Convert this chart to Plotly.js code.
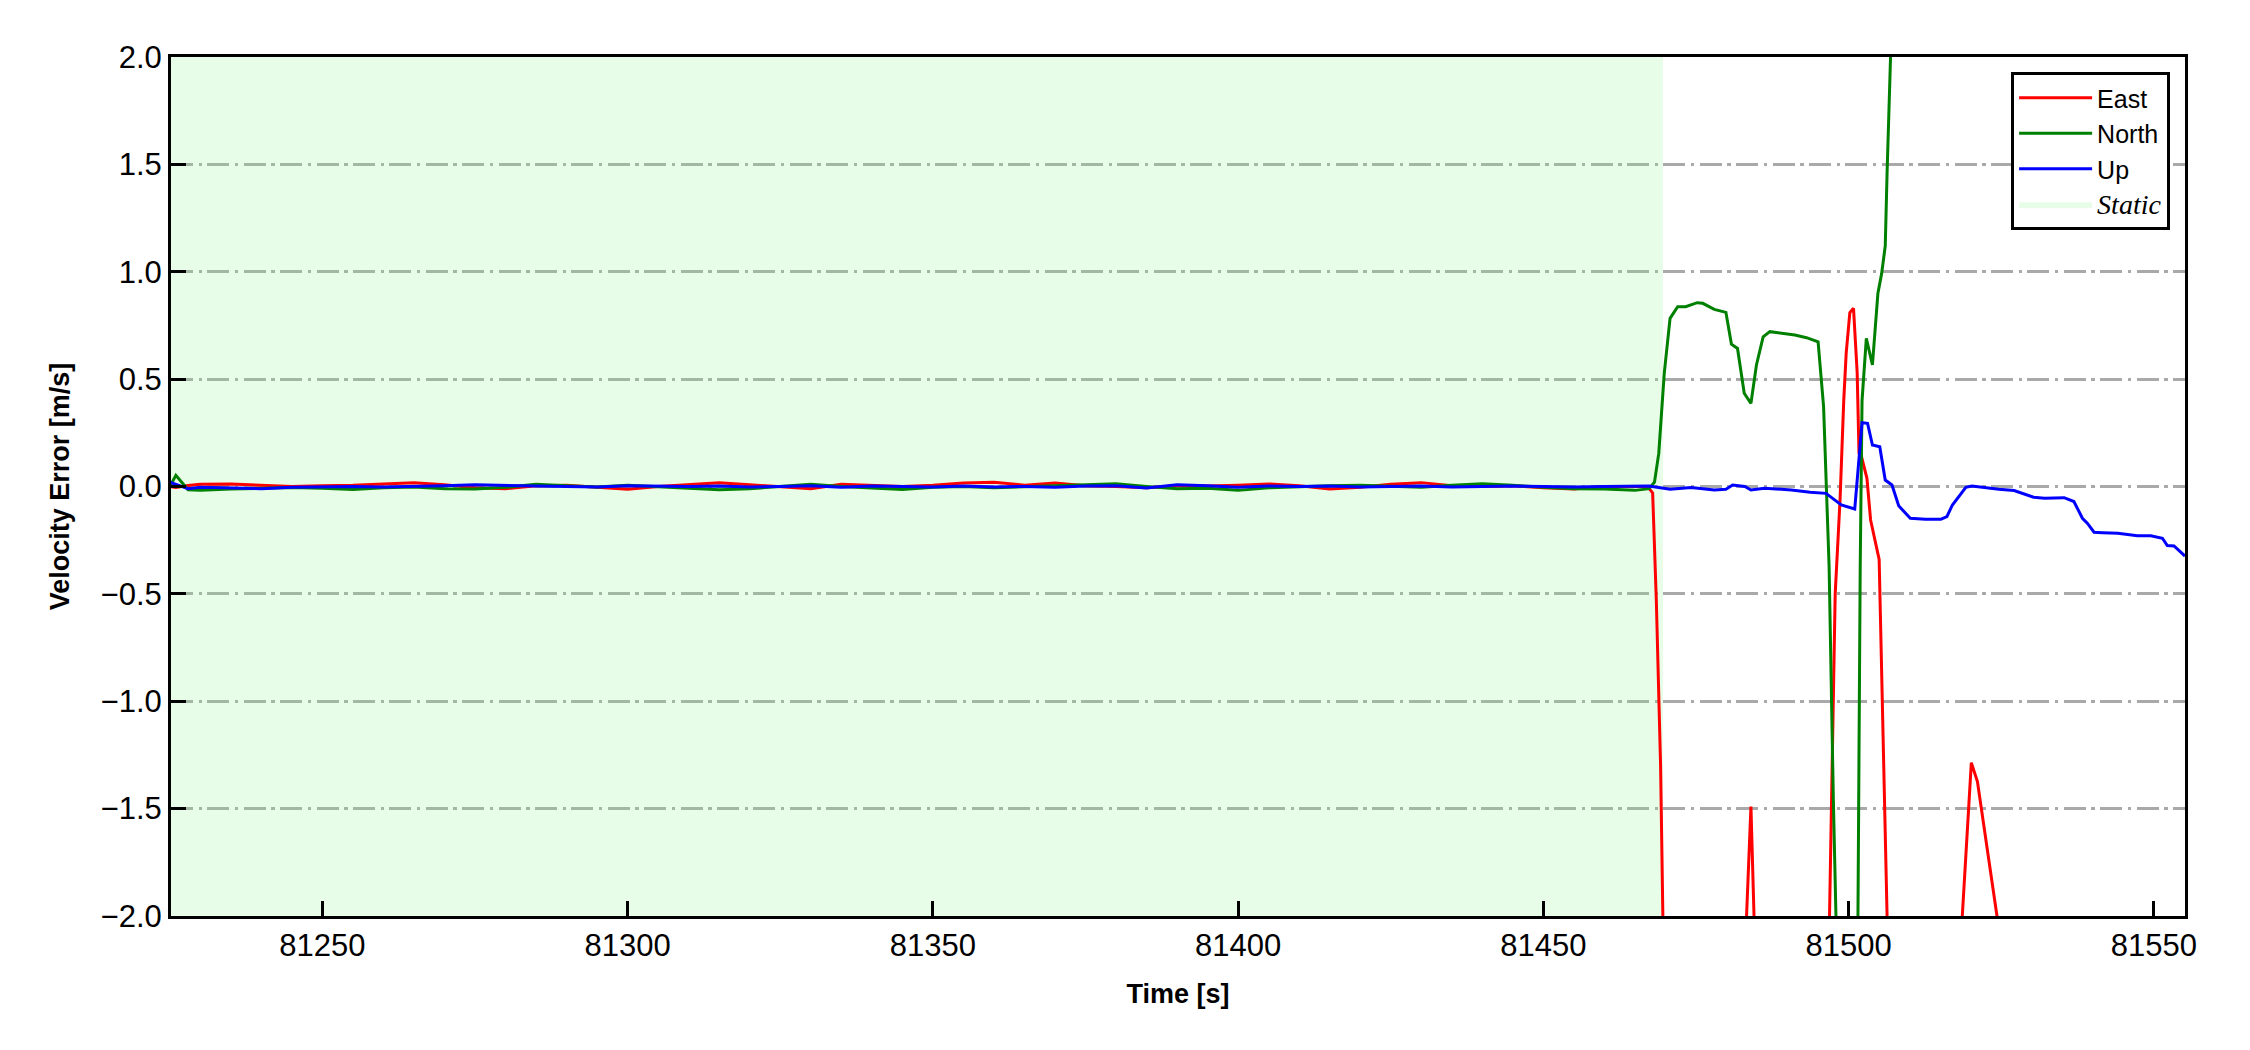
<!DOCTYPE html>
<html>
<head>
<meta charset="utf-8">
<script src="https://cdn.plot.ly/plotly-3.0.1.min.js"></script>
<style>html,body{margin:0;padding:0;background:#fff;}</style>
</head>
<body>
<div id="chart" style="width:2250px;height:1050px;"></div>
<script>
// ---- data ----
const staticTime = [81225,81226,81228,81230,81235,81240,81245,81250,81255,81260,81265,81270,81275,81280,81285,81290,81295,81300,81305,81310,81315,81320,81325,81330,81335,81340,81345,81350,81355,81360,81365,81370,81375,81380,81385,81390,81395,81400,81405,81410,81415,81420,81425,81430,81435,81440,81445,81450,81455,81460,81465];

const eastStatic = [0.0,-0.005,0.005,0.01,0.012,0.006,0.0,0.004,0.006,0.012,0.018,0.008,-0.006,-0.01,0.004,0.006,-0.004,-0.013,0.0,0.01,0.018,0.008,0.0,-0.01,0.01,0.004,0.0,0.006,0.016,0.02,0.006,0.016,0.004,0.0,-0.006,0.004,0.002,0.006,0.012,0.004,-0.012,-0.004,0.01,0.018,0.004,0.0,0.004,-0.006,-0.012,0.0,0.002];
const northStatic = [0.0,0.052,-0.015,-0.018,-0.012,-0.008,-0.005,-0.008,-0.014,-0.006,-0.002,-0.01,-0.012,-0.004,0.01,0.004,-0.002,0.006,0.0,-0.008,-0.015,-0.01,0.0,0.01,0.0,-0.006,-0.014,-0.004,0.0,-0.006,-0.002,0.004,0.006,0.013,0.0,-0.01,-0.008,-0.018,-0.006,0.0,0.004,0.006,0.0,-0.004,0.006,0.013,0.006,-0.004,-0.01,-0.012,-0.018];
const upStatic = [0.02,0.01,-0.01,-0.004,-0.006,-0.01,-0.004,-0.002,0.0,-0.002,0.0,0.004,0.008,0.004,0.002,0.0,-0.002,0.004,0.002,0.0,0.002,-0.002,0.0,0.004,-0.004,0.002,0.0,-0.002,0.002,-0.002,0.0,-0.004,0.002,0.004,-0.007,0.008,0.004,-0.004,0.002,0.0,0.002,-0.002,0.0,0.002,-0.002,0.0,0.002,0.0,-0.002,0.0,0.002];

const eastTimeAfter = [81466.5,81467.3,81467.9,81468.5,81469.2,81470.0,81475.0,81480.0,81483.0,81484.0,81485.0,81490.0,81496.5,81497.8,81498.6,81499.2,81499.6,81500.2,81500.8,81501.4,81501.7,81502.1,81503.0,81503.6,81504.9,81505.0,81506.3,81506.6,81512.0,81518.0,81520.1,81521.1,81524.3,81524.6,81535.0];
const eastAfter     = [0.0,-0.008,-0.03,-0.53,-1.3,-2.8,-4.5,-4.0,-2.2,-1.49,-2.5,-4.2,-2.6,-0.5,-0.06,0.40,0.62,0.81,0.83,0.53,0.155,0.14,0.038,-0.156,-0.327,-0.34,-2.0,-2.5,-4.5,-2.3,-1.286,-1.374,-2.0,-2.1,-5.0];

const northTimeAfter = [81467.3,81468.2,81468.9,81469.8,81470.75,81472.0,81473.3,81475.2,81476.1,81478.0,81479.9,81480.8,81481.8,81482.9,81484.0,81484.9,81486.0,81487.1,81489.3,81491.2,81493.1,81495.0,81495.9,81496.8,81497.5,81498.0,81499.5,81501.3,81501.9,81502.2,81502.9,81503.9,81504.8,81505.4,81506.0,81506.3,81506.8,81507.5,81510.0];
const northAfter     = [-0.01,0.02,0.154,0.527,0.783,0.837,0.837,0.856,0.853,0.825,0.811,0.663,0.643,0.434,0.387,0.566,0.697,0.721,0.713,0.705,0.693,0.674,0.372,-0.37,-1.46,-2.4,-4.0,-3.0,-0.37,0.40,0.69,0.566,0.90,0.99,1.12,1.46,1.92,2.6,4.0];

const upTimeAfter = [81467.3,81470.75,81474.2,81478.0,81479.9,81481.0,81483.0,81484.0,81486.2,81490.6,81493.7,81496.3,81498.8,81501.0,81502.2,81503.1,81503.9,81505.1,81506.0,81507.1,81508.2,81510.1,81512.6,81515.1,81516.1,81517.0,81519.2,81520.2,81522.1,81524.6,81527.1,81528.4,81530.3,81532.1,81535.3,81536.9,81538.3,81539.1,81540.2,81541.6,81544.1,81547.3,81549.5,81551.4,81552.2,81553.3,81555.1];
const upAfter     = [0.002,-0.013,-0.005,-0.016,-0.013,0.007,0.0,-0.016,-0.008,-0.016,-0.027,-0.032,-0.086,-0.105,0.297,0.294,0.193,0.185,0.03,0.007,-0.09,-0.148,-0.153,-0.153,-0.14,-0.086,-0.004,0.002,-0.005,-0.013,-0.019,-0.032,-0.05,-0.055,-0.052,-0.07,-0.148,-0.171,-0.213,-0.215,-0.218,-0.229,-0.229,-0.241,-0.275,-0.277,-0.324];

const staticPeriod = [81225.2, 81469.6];
const xRange = [81225.2, 81555.1];
const yRange = [-2, 2];
const xTickVals = [81250,81300,81350,81400,81450,81500,81550];
const xTickText = ['81250','81300','81350','81400','81450','81500','81550'];
const yTickVals = [-2.0,-1.5,-1.0,-0.5,0.0,0.5,1.0,1.5,2.0];
const yTickText = ['\u22122.0','\u22121.5','\u22121.0','\u22120.5','0.0','0.5','1.0','1.5','2.0'];
const seriesNames = ['East','North','Up'];
const staticName = 'Static';

// ---- figure ----
const FONT = 'Liberation Sans, Arial, sans-serif';
const eastT = staticTime.concat(eastTimeAfter), eastV = eastStatic.concat(eastAfter);
const northT = staticTime.concat(northTimeAfter), northV = northStatic.concat(northAfter);
const upT = staticTime.concat(upTimeAfter), upV = upStatic.concat(upAfter);

const mk = (x, y, name, color, rank) => ({
  x: x, y: y, name: name, type: 'scatter', mode: 'lines',
  line: {color: color, width: 3}, legendrank: rank, hoverinfo: 'skip'
});

// static period band (drawn first so it lies under the lines)
const staticTrace = {
  x: [staticPeriod[0], staticPeriod[1], staticPeriod[1], staticPeriod[0]],
  y: [yRange[0], yRange[0], yRange[1], yRange[1]],
  type: 'scatter', mode: 'lines', fill: 'toself',
  fillcolor: 'rgba(140,245,140,0.2)', line: {width: 0, color: 'rgba(140,245,140,0.2)'},
  name: '<span style="font-family:Liberation Serif, Times New Roman, serif;font-size:28px"><i>' + staticName + '</i></span>',
  legendrank: 4, hoverinfo: 'skip'
};

const traces = [
  staticTrace,
  mk(eastT, eastV, seriesNames[0], '#ff0000', 1),
  mk(northT, northV, seriesNames[1], '#008000', 2),
  mk(upT, upV, seriesNames[2], '#0000ff', 3)
];

const layout = {
  width: 2250, height: 1050,
  margin: {l: 171, r: 65, t: 57, b: 134, pad: 0},
  paper_bgcolor: '#ffffff', plot_bgcolor: '#ffffff',
  font: {family: FONT, color: '#000000'},
  showlegend: true,
  legend: {
    x: 0.9926, xanchor: 'right', y: 0.9825, yanchor: 'top',
    bgcolor: '#ffffff', bordercolor: '#000000', borderwidth: 3,
    font: {family: FONT, size: 25, color: '#000000'},
    itemwidth: 73, tracegroupgap: 0
  },
  xaxis: {
    range: xRange, tickmode: 'array', tickvals: xTickVals, ticktext: xTickText,
    ticks: 'inside', ticklen: 15, tickwidth: 3, tickcolor: '#000000',
    showline: true, linewidth: 3, linecolor: '#000000', mirror: true,
    showgrid: false, zeroline: false,
    tickfont: {family: FONT, size: 31, color: '#000000'},
    title: {text: 'Time [s]', font: {family: FONT, size: 27, color: '#000000', weight: 'bold'}, standoff: 22}
  },
  yaxis: {
    range: yRange, tickmode: 'array', tickvals: yTickVals, ticktext: yTickText,
    ticks: 'inside', ticklen: 15, tickwidth: 3, tickcolor: '#000000',
    showline: true, linewidth: 3, linecolor: '#000000', mirror: true,
    showgrid: true, gridcolor: '#a9a9a9', gridwidth: 3, griddash: '22px,5.5px,3.4px,5.5px',
    zeroline: false,
    tickfont: {family: FONT, size: 31, color: '#000000'},
    title: {text: 'Velocity Error [m/s]', font: {family: FONT, size: 27, color: '#000000', weight: 'bold'}, standoff: 24}
  }
};

Plotly.newPlot('chart', traces, layout, {displayModeBar: false, staticPlot: true});
</script>
</body>
</html>
